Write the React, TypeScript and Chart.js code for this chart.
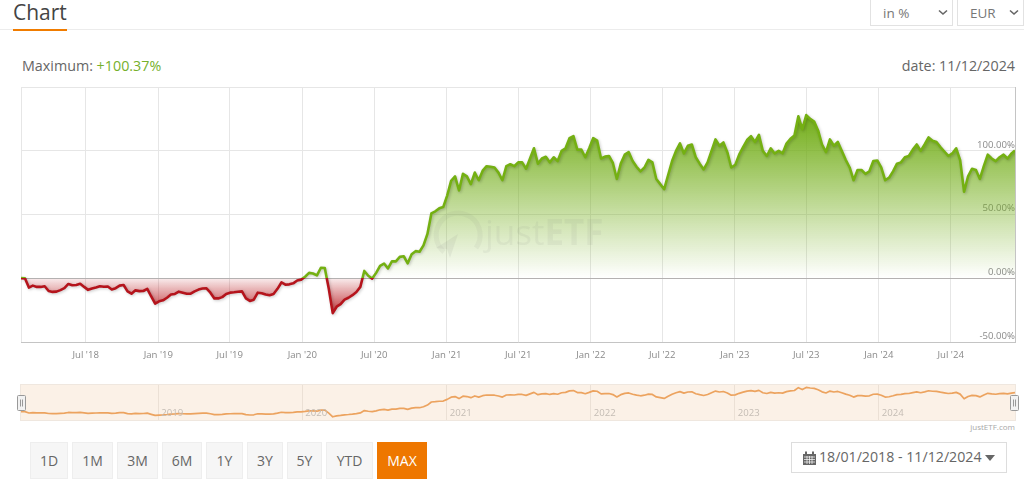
import React, { useEffect, useRef } from "react";
import { Chart, registerables } from "chart.js";

Chart.register(...registerables);

// Percentage performance, one reading every 10 days from 18/01/2018
const values2018 = [0.4, 0.2, -7, -5.5, -6.5, -6.5, -6, -9.7, -10.4, -10.2, -9, -7.5, -4.2, -5.2, -5, -4, -6.5, -8.8, -7.8, -7, -6, -6.4, -6.2, -8.5, -7.5, -5.5, -5, -10, -11.8, -9.2, -9.8, -9.7, -8, -14, -19.6];
const values2019 = [-17.8, -17, -15, -12.5, -12, -10.2, -11, -11.8, -11.8, -10, -8.6, -7.8, -7.6, -11, -15.5, -15.5, -14.5, -12, -11, -10.7, -10.3, -10, -15.5, -17.5, -16.5, -11, -11.5, -12.5, -13, -12, -8, -3, -4.8, -4.5, -3.7, -1.5, -0.8];
const values2020 = [1.5, 4.5, 4, 2.5, 8.5, 8.2, -8, -27, -22, -20, -16.5, -15, -13, -10.5, -6.5, 6, 2.2, 0, 4.5, 10, 11.8, 8, 13.5, 13.5, 17, 17.5, 12, 19, 21.5, 21, 26, 35, 51, 52.7, 55, 56];
const values2021 = [65, 76.5, 80, 69, 82, 80, 74, 83, 77, 84.5, 88, 87.5, 87, 83, 77, 88, 89.5, 88, 91, 91, 86, 94, 102, 90, 94, 95.4, 91, 95, 92, 100, 102, 110, 111.5, 101, 101, 95, 102];
const values2022 = [110, 108, 94, 95.5, 96, 90.5, 78, 90, 97, 99, 92, 87.5, 84, 87, 93, 91, 78, 74, 70, 81, 92, 100, 105.8, 98, 104, 105, 95, 90, 85.5, 91, 100, 109, 104, 106.6, 99, 87, 89];
const values2023 = [97, 103, 108.5, 111.5, 107, 112.5, 100, 96, 102, 98, 100, 98, 105.8, 109.5, 112, 127, 117, 128, 125, 123, 116, 105, 99, 109, 104, 107, 100, 93, 87, 77, 85, 85, 82, 84, 92, 92.5];
const values2024 = [87, 77, 79, 84, 90, 91, 95, 96, 101, 105, 100, 105, 110.5, 108, 107, 103, 99.5, 96, 98, 102, 92.7, 68, 80, 86, 85, 78, 88, 97, 94, 92, 95, 97, 94, 98, 100.37];
const seriesValues = [...values2018, ...values2019, ...values2020, ...values2021, ...values2022, ...values2023, ...values2024];

const startDate = "2018-01-18";
const endDate = "2024-12-11";
const monthTickDates = ["2018-07-01", "2019-01-01", "2019-07-01", "2020-01-01", "2020-07-01", "2021-01-01", "2021-07-01", "2022-01-01", "2022-07-01", "2023-01-01", "2023-07-01", "2024-01-01", "2024-07-01"];
const monthTickLabels = ["Jul '18", "Jan '19", "Jul '19", "Jan '20", "Jul '20", "Jan '21", "Jul '21", "Jan '22", "Jul '22", "Jan '23", "Jul '23", "Jan '24", "Jul '24"];
const percentTicks = [-50, 0, 50, 100, 150];
const yearTickDates = ["2019-01-01", "2020-01-01", "2021-01-01", "2022-01-01", "2023-01-01", "2024-01-01"];
const yearTickLabels = ["2019", "2020", "2021", "2022", "2023", "2024"];
const rangeButtons = ["1D", "1M", "3M", "6M", "1Y", "3Y", "5Y", "YTD", "MAX"];
const rangeButtonWidths = [38, 41, 41, 40, 37, 36, 35, 47, 50];

const DAY = 86400000;
const tStart = Date.parse(startDate);
const tEnd = Date.parse(endDate);
const points = seriesValues.map((y, i) => ({ x: Math.min(tStart + i * 10 * DAY, tEnd), y }));

const FONT = "'Open Sans', sans-serif";
const abs = (left: number, top: number, extra: React.CSSProperties = {}): React.CSSProperties => ({
  position: "absolute", left, top, ...extra,
});

function Chevron({ x, y }: { x: number; y: number }) {
  return (
    <svg style={abs(x, y)} width="10" height="7" viewBox="0 0 10 7">
      <path d="M1 1.5 L5 5 L9 1.5" fill="none" stroke="#666" strokeWidth="1.6" />
    </svg>
  );
}

function Handle({ x }: { x: number }) {
  return (
    <svg style={abs(x, 395)} width="9" height="16" viewBox="0 0 9 16">
      <rect x="0.5" y="0.5" width="8" height="15" rx="1" fill="#f2f2f2" stroke="#999" />
      <path d="M3.5 4.5V11.5M5.5 4.5V11.5" stroke="#999" strokeWidth="1" />
    </svg>
  );
}

export default function App() {
  const mainRef = useRef<HTMLCanvasElement>(null);
  const navRef = useRef<HTMLCanvasElement>(null);

  useEffect(() => {
    const mainCanvas = mainRef.current!;
    const ctx = mainCanvas.getContext("2d")!;
    const zeroY = 278.25;

    const strokeGrad = ctx.createLinearGradient(0, 87, 0, 342);
    const stop = (zeroY - 87) / 255;
    strokeGrad.addColorStop(0, "#74b012");
    strokeGrad.addColorStop(stop, "#74b012");
    strokeGrad.addColorStop(stop, "#b5141c");
    strokeGrad.addColorStop(1, "#b5141c");

    const aboveGrad = ctx.createLinearGradient(0, 112, 0, zeroY);
    aboveGrad.addColorStop(0, "rgba(112,172,20,1)");
    aboveGrad.addColorStop(1, "rgba(112,172,20,0)");

    const belowGrad = ctx.createLinearGradient(0, zeroY, 0, 320);
    belowGrad.addColorStop(0, "rgba(183,20,26,0.08)");
    belowGrad.addColorStop(1, "rgba(183,20,26,1)");

    const shadowPlugin = {
      id: "lineShadow",
      beforeDatasetDraw(chart: any) {
        const c = chart.ctx;
        c.save();
        c.shadowColor = "rgba(0,0,0,0.22)";
        c.shadowBlur = 3;
        c.shadowOffsetX = 1;
        c.shadowOffsetY = 1;
      },
      afterDatasetDraw(chart: any) {
        chart.ctx.restore();
      },
    };

    const main = new Chart(mainCanvas, {
      type: "line",
      data: {
        datasets: [
          {
            data: points,
            borderColor: strokeGrad,
            borderWidth: 2.6,
            borderJoinStyle: "round",
            pointRadius: 0,
            tension: 0,
            fill: { target: { value: 0 }, above: aboveGrad, below: belowGrad },
          } as any,
        ],
      },
      options: {
        animation: false,
        responsive: false,
        devicePixelRatio: 1,
        layout: { padding: { left: 21, right: 9, top: 87, bottom: 0 } },
        plugins: {
          legend: { display: false },
          tooltip: { enabled: false },
          filler: { drawTime: "beforeDatasetsDraw" },
        } as any,
        scales: {
          x: {
            type: "linear",
            min: tStart,
            max: tEnd,
            afterBuildTicks(scale: any) {
              scale.ticks = [tStart, ...monthTickDates.map((d) => Date.parse(d))].map((value) => ({ value }));
            },
            grid: { color: "#e6e6e6", drawTicks: false },
            border: { color: "#c4c4c4" },
            ticks: {
              autoSkip: false,
              maxRotation: 0,
              padding: 7,
              color: "#8a8a8a",
              font: { family: FONT, size: 9.6 },
              callback: (_v: any, i: number) => (i === 0 ? "" : monthTickLabels[i - 1]),
            },
          },
          y: {
            position: "right",
            min: -50,
            max: 150,
            afterBuildTicks(scale: any) {
              scale.ticks = percentTicks.map((value) => ({ value }));
            },
            grid: {
              drawTicks: false,
              color: (c: any) => (c.tick && c.tick.value === 0 ? "#b4b4b4" : "#e6e6e6"),
            },
            border: { color: "#c4c4c4" },
            ticks: {
              mirror: true,
              padding: 0,
              labelOffset: -6,
              color: "#8a8a8a",
              font: { family: FONT, size: 9.6 },
              callback: (v: any) => (v === 150 ? "" : `${Number(v).toFixed(2)}%`),
            },
          },
        } as any,
      },
      plugins: [shadowPlugin],
    });

    const yearLabelsPlugin = {
      id: "yearLabels",
      afterDraw(chart: any) {
        const c = chart.ctx;
        c.save();
        c.font = `9.6px ${FONT}`;
        c.fillStyle = "#c4bcb4";
        c.textBaseline = "middle";
        yearTickDates.forEach((d, i) => {
          c.fillText(yearTickLabels[i], chart.scales.x.getPixelForValue(Date.parse(d)) + 3, 28);
        });
        c.restore();
      },
    };

    const nav = new Chart(navRef.current!, {
      type: "line",
      data: {
        datasets: [
          {
            data: points,
            borderColor: "#eca35f",
            borderWidth: 1.7,
            borderJoinStyle: "round",
            pointRadius: 0,
            tension: 0,
            fill: false,
          } as any,
        ],
      },
      options: {
        animation: false,
        responsive: false,
        devicePixelRatio: 1,
        plugins: { legend: { display: false }, tooltip: { enabled: false } },
        scales: {
          x: {
            type: "linear",
            min: tStart,
            max: tEnd,
            afterBuildTicks(scale: any) {
              scale.ticks = yearTickDates.map((d) => ({ value: Date.parse(d) }));
            },
            grid: { color: "#ebe0d5", drawTicks: false },
            border: { display: false },
            ticks: { display: false },
          },
          y: { display: false, min: -44, max: 141 },
        } as any,
      },
      plugins: [yearLabelsPlugin],
    });

    return () => {
      main.destroy();
      nav.destroy();
    };
  }, []);

  return (
    <div style={{ position: "absolute", left: 0, top: 0, width: 1024, height: 494, overflow: "hidden", background: "#fff", fontFamily: FONT, color: "#666" }}>
      <div style={abs(13, 0, { fontSize: 21, lineHeight: "24px", color: "#444" })}>Chart</div>
      <div style={abs(0, 29, { width: 1024, height: 1, background: "#ececec" })} />
      <div style={abs(13, 29, { width: 54, height: 2, background: "#f07c00" })} />

      <div style={abs(870, -2, { width: 83, height: 28, border: "1px solid #e2e2e2", boxSizing: "border-box", fontSize: 13.5, lineHeight: "28px", paddingLeft: 12, color: "#777" })}>in %</div>
      <Chevron x={938} y={9} />
      <div style={abs(957, -2, { width: 67, height: 28, border: "1px solid #e2e2e2", boxSizing: "border-box", fontSize: 13.5, lineHeight: "28px", paddingLeft: 12, color: "#777" })}>EUR</div>
      <Chevron x={1009} y={9} />

      <div style={abs(22, 56, { fontSize: 14.3, lineHeight: "20px", color: "#666", whiteSpace: "nowrap" })}>
        Maximum: <span style={{ color: "#76b02c" }}>+100.37%</span>
      </div>
      <div style={{ position: "absolute", right: 9, top: 56, fontSize: 14.3, lineHeight: "20px", color: "#666", whiteSpace: "nowrap" }}>date: 11/12/2024</div>

      <canvas ref={mainRef} width={1024} height={368} style={abs(0, 0, { display: "block" })} />

      <svg style={abs(432, 208)} width="54" height="52" viewBox="0 0 54 52">
        <path d="M12 44 A22 22 0 1 1 44 40" fill="none" stroke="rgba(110,110,110,0.07)" strokeWidth="5" />
        <path d="M4 40 L26 26 L18 50 L15 41 Z" fill="rgba(110,110,110,0.09)" />
      </svg>
      <div style={abs(485, 205, { fontSize: 35, lineHeight: "54px", color: "rgba(110,110,110,0.08)", whiteSpace: "nowrap" })}>
        just<b>ETF</b>
      </div>

      <canvas ref={navRef} width={994} height={35} style={abs(21, 385, { display: "block", background: "#fbf1e7", outline: "1px solid #efe7df" })} />
      <Handle x={17} />
      <Handle x={1010} />
      <div style={{ position: "absolute", right: 9, top: 421, fontSize: 8, lineHeight: "11px", color: "#a8a8a8" }}>justETF.com</div>

      <div style={abs(30, 442, { display: "flex", gap: 4 })}>
        {rangeButtons.map((label, i) => {
          const active = label === "MAX";
          return (
            <div key={label} style={{ width: rangeButtonWidths[i], height: 37, boxSizing: "border-box", border: active ? "none" : "1px solid #eeeeee", background: active ? "#ee7700" : "#f6f6f6", color: active ? "#fff" : "#666", fontSize: 14, lineHeight: active ? "37px" : "35px", textAlign: "center" }}>
              {label}
            </div>
          );
        })}
      </div>

      <div style={abs(791, 442, { width: 216, height: 31, boxSizing: "border-box", border: "1px solid #dddddd" })} />
      <svg style={abs(803, 451)} width="13" height="14" viewBox="0 0 13 14">
        <path d="M0 3 H13 V14 H0 Z" fill="#666" />
        <path d="M3 0.5 V3 M10 0.5 V3" stroke="#666" strokeWidth="2" />
        <path d="M1 6 H12 M1 8.5 H12 M1 11 H12 M4 5 V13 M6.5 5 V13 M9 5 V13" stroke="#fff" strokeWidth="0.7" />
      </svg>
      <div style={abs(819, 447, { fontSize: 14.2, lineHeight: "20px", color: "#666", whiteSpace: "nowrap" })}>18/01/2018 - 11/12/2024</div>
      <svg style={abs(985, 455)} width="11" height="6" viewBox="0 0 11 6">
        <path d="M0 0 H10 L5 6 Z" fill="#666" />
      </svg>
    </div>
  );
}
